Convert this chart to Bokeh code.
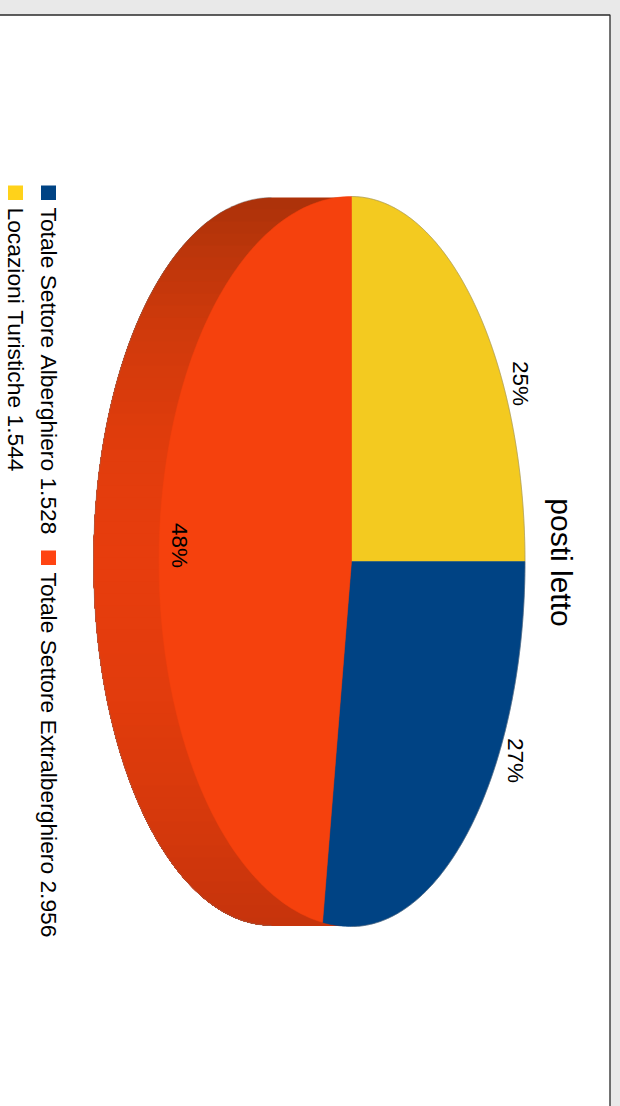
import numpy as np
from bokeh.plotting import figure
from bokeh.models import Range1d
from bokeh.core.properties import value
from bokeh.embed import file_html
from bokeh.resources import INLINE

TITLE = "posti letto"
categories = ["Totale Settore Alberghiero", "Totale Settore Extralberghiero", "Locazioni Turistiche"]
amounts = ["1.528", "2.956", "1.544"]
percent_labels = ["27%", "48%", "25%"]
shares = [27.4, 47.6, 25.0]
slice_colors = ["#004384", "#f5410d", "#f3ca20"]
legend_colors = ["#004384", "#ff4412", "#ffd21a"]

# shading of the pie's side, from the top of the page down
side_stops = [197, 250, 330, 450, 561, 700, 820, 925]
side_r = [172, 188, 208, 226, 232, 226, 214, 198]
side_g = [50, 54, 58, 61, 62, 60, 57, 52]
side_b = [10, 11, 12, 13, 13, 13, 12, 12]

W, H = 620, 1106
PAD = 2
CX, CY = 351, 561
A_RIGHT, A_LEFT, B = 173.5, 192.5, 365
SIDE_CX, SIDE_A, SIDE_B = 271, 178, 364

p = figure(width=W + 2 * PAD, height=H + PAD, x_range=Range1d(-PAD, W + PAD), y_range=Range1d(H + PAD, 0),
           x_axis_type=None, y_axis_type=None, output_backend="svg",
           toolbar_location=None, min_border=0, outline_line_color=None,
           background_fill_color="#e9e9e9", border_fill_color="#e9e9e9")
p.grid.visible = False

p.quad(left=[-20], right=[609.5], top=[14.5], bottom=[H + 20],
       fill_color="#ffffff", line_color="#2a2a2a", line_width=1.3)

def face_xy(deg):
    t = np.radians(deg)
    c, s = np.cos(t), np.sin(t)
    a = np.where(c >= 0, A_RIGHT, A_LEFT)
    return CX + a * c, CY + B * s

# side of the pie: bands of changing shade; each runs on under the next to hide seams
edges = np.arange(side_stops[0], side_stops[-1], 12.0)
bottom = side_stops[-1]
for y0 in edges:
    th = np.linspace(np.arcsin(np.clip((y0 - CY) / SIDE_B, -1, 1)),
                     np.arcsin(np.clip((bottom - CY) / SIDE_B, -1, 1)), 200)
    yy = CY + SIDE_B * np.sin(th)
    xl = SIDE_CX - SIDE_A * np.cos(th)
    m = y0 + 6
    col = "#%02x%02x%02x" % (int(np.interp(m, side_stops, side_r)),
                             int(np.interp(m, side_stops, side_g)),
                             int(np.interp(m, side_stops, side_b)))
    p.patch(list(xl) + [CX, CX], list(yy) + [bottom, y0], fill_color=col, line_color=None)

# outline of the side
th = np.linspace(-np.pi / 2, np.pi / 2, 300)
p.line(SIDE_CX - SIDE_A * np.cos(th), CY + SIDE_B * np.sin(th),
       line_color="#777777", line_alpha=0.55, line_width=0.8)

# face: yellow begins at the top and runs clockwise, then blue, then orange
order = [2, 0, 1]
start = -90.0
for i in order:
    sweep = shares[i] / sum(shares) * 360
    a = np.linspace(start, start + sweep, 160)
    x, y = face_xy(a)
    p.patch(list(x) + [CX], list(y) + [CY], fill_color=slice_colors[i],
            line_color=slice_colors[i], line_width=0.5)
    start += sweep

a = np.linspace(-90, 90, 200)
x, y = face_xy(a)
p.line(x, y, line_color="#777777", line_alpha=0.55, line_width=0.8)

FONT = value("Liberation Sans")
ROT = -np.pi / 2

def rotated(x, y, s, size, align="left", base="middle", color="#000000"):
    p.text([x], [y], text=[s], text_font=FONT, text_font_size=size, text_color=color,
           angle=ROT, text_align=align, text_baseline=base)

rotated(561, 562, TITLE, "30px", align="center")
rotated(515, 760, percent_labels[0], "22.5px", align="center")
rotated(179, 545, percent_labels[1], "22.5px", align="center")
rotated(520, 383, percent_labels[2], "22.5px", align="center")

sp = "\u00a0"
def entry(i):
    return (categories[i] + " " + amounts[i]).replace(" ", sp)

legend_x = [48, 48, 15]
marker_y = [185, 550, 185]
p.quad(left=[x - 7.5 for x in legend_x], right=[x + 7.5 for x in legend_x],
       top=marker_y, bottom=[y + 14.5 for y in marker_y], fill_color=legend_colors, line_color=None)
for i, tx in enumerate(legend_x):
    rotated(tx, marker_y[i] + 22, entry(i), "22.8px")

html = file_html(p, INLINE)
html = html.replace("<head>", "<head><style>html,body{padding:0;background:#e9e9e9;overflow:hidden}"
                    "body{margin:0 0 0 -2px !important}</style>", 1)
open("out.html", "w").write(html)
